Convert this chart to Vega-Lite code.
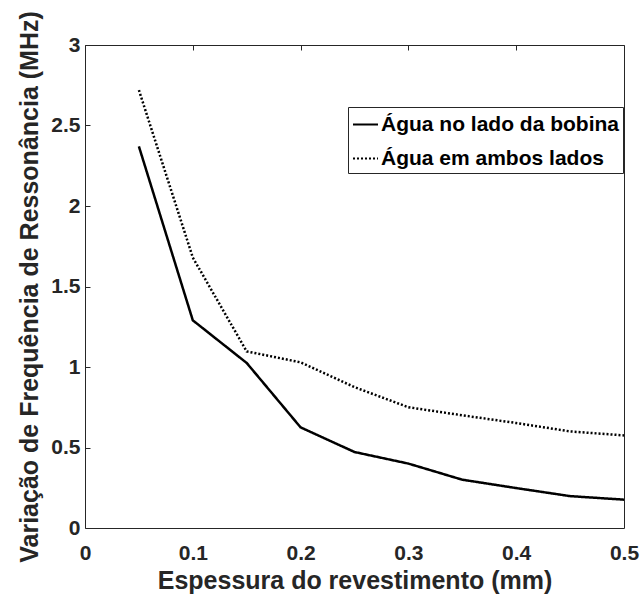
{
  "$schema": "https://vega.github.io/schema/vega-lite/v6.json",
  "autosize": "none",
  "width": 539,
  "height": 483,
  "padding": {"left": 85, "top": 45, "right": 17, "bottom": 70},
  "background": "white",
  "config": {
    "font": "Liberation Sans",
    "view": {"stroke": "#262626", "strokeWidth": 1},
    "axis": {
      "grid": true,
      "gridColor": "#262626",
      "gridOpacity": 1,
      "gridWidth": 1,
      "gridDash": [5, 2000],
      "domain": false,
      "ticks": false,
      "tickSize": 0,
      "labelColor": "#262626",
      "titleColor": "#262626",
      "labelFont": "Liberation Sans",
      "titleFont": "Liberation Sans",
      "labelFontWeight": "bold",
      "titleFontWeight": "bold",
      "labelFontSize": 21,
      "titleFontSize": 25
    }
  },
  "data": {
    "values": [
      {"x": 0.05, "y": 2.37, "s": "Água no lado da bobina"},
      {"x": 0.10, "y": 1.29, "s": "Água no lado da bobina"},
      {"x": 0.15, "y": 1.025, "s": "Água no lado da bobina"},
      {"x": 0.20, "y": 0.625, "s": "Água no lado da bobina"},
      {"x": 0.25, "y": 0.472, "s": "Água no lado da bobina"},
      {"x": 0.30, "y": 0.40, "s": "Água no lado da bobina"},
      {"x": 0.35, "y": 0.30, "s": "Água no lado da bobina"},
      {"x": 0.40, "y": 0.248, "s": "Água no lado da bobina"},
      {"x": 0.45, "y": 0.198, "s": "Água no lado da bobina"},
      {"x": 0.50, "y": 0.176, "s": "Água no lado da bobina"},
      {"x": 0.05, "y": 2.72, "s": "Água em ambos lados"},
      {"x": 0.10, "y": 1.68, "s": "Água em ambos lados"},
      {"x": 0.15, "y": 1.097, "s": "Água em ambos lados"},
      {"x": 0.20, "y": 1.029, "s": "Água em ambos lados"},
      {"x": 0.25, "y": 0.875, "s": "Água em ambos lados"},
      {"x": 0.30, "y": 0.75, "s": "Água em ambos lados"},
      {"x": 0.35, "y": 0.70, "s": "Água em ambos lados"},
      {"x": 0.40, "y": 0.652, "s": "Água em ambos lados"},
      {"x": 0.45, "y": 0.60, "s": "Água em ambos lados"},
      {"x": 0.50, "y": 0.575, "s": "Água em ambos lados"}
    ]
  },
  "layer": [
    {
      "mark": {"type": "line", "color": "black", "strokeWidth": 2.5},
      "encoding": {
        "x": {
          "field": "x", "type": "quantitative",
          "scale": {"domain": [0, 0.5], "nice": false, "zero": false},
          "axis": {
            "values": [0, 0.1, 0.2, 0.3, 0.4, 0.5],
            "format": "~g",
            "title": "Espessura do revestimento (mm)",
            "labelPadding": 14,
            "titlePadding": 5,
            "labelFlush": false,
            "labelOverlap": false
          }
        },
        "y": {
          "field": "y", "type": "quantitative",
          "scale": {"domain": [0, 3], "nice": false},
          "axis": {
            "values": [0, 0.5, 1, 1.5, 2, 2.5, 3],
            "format": "~g",
            "title": "Variação de Frequência de Ressonância (MHz)",
            "labelPadding": 5,
            "titlePadding": 8,
            "labelFlush": false,
            "labelOverlap": false
          }
        },
        "strokeDash": {
          "field": "s", "type": "nominal",
          "scale": {
            "domain": ["Água no lado da bobina", "Água em ambos lados"],
            "range": [[1, 0], [2, 2]]
          },
          "legend": {
            "title": null,
            "orient": "none",
            "legendX": 263,
            "legendY": 62,
            "direction": "vertical",
            "symbolType": "stroke",
            "symbolSize": 625,
            "symbolStrokeWidth": 2,
            "symbolStrokeColor": "black",
            "labelFont": "Liberation Sans",
            "labelFontWeight": "bold",
            "labelFontSize": 21,
            "labelColor": "black",
            "labelLimit": 400,
            "labelOffset": 2,
            "strokeColor": "#262626",
            "fillColor": "white",
            "padding": 4,
            "rowPadding": 10
          }
        }
      }
    },
    {
      "mark": {"type": "line", "opacity": 0},
      "encoding": {
        "x": {
          "field": "x", "type": "quantitative",
          "axis": {"orient": "top", "values": [0, 0.1, 0.2, 0.3, 0.4, 0.5], "labels": false, "title": null}
        },
        "y": {
          "field": "y", "type": "quantitative",
          "axis": {"orient": "right", "values": [0, 0.5, 1, 1.5, 2, 2.5, 3], "labels": false, "title": null}
        }
      }
    }
  ],
  "resolve": {"axis": {"x": "independent", "y": "independent"}}
}
